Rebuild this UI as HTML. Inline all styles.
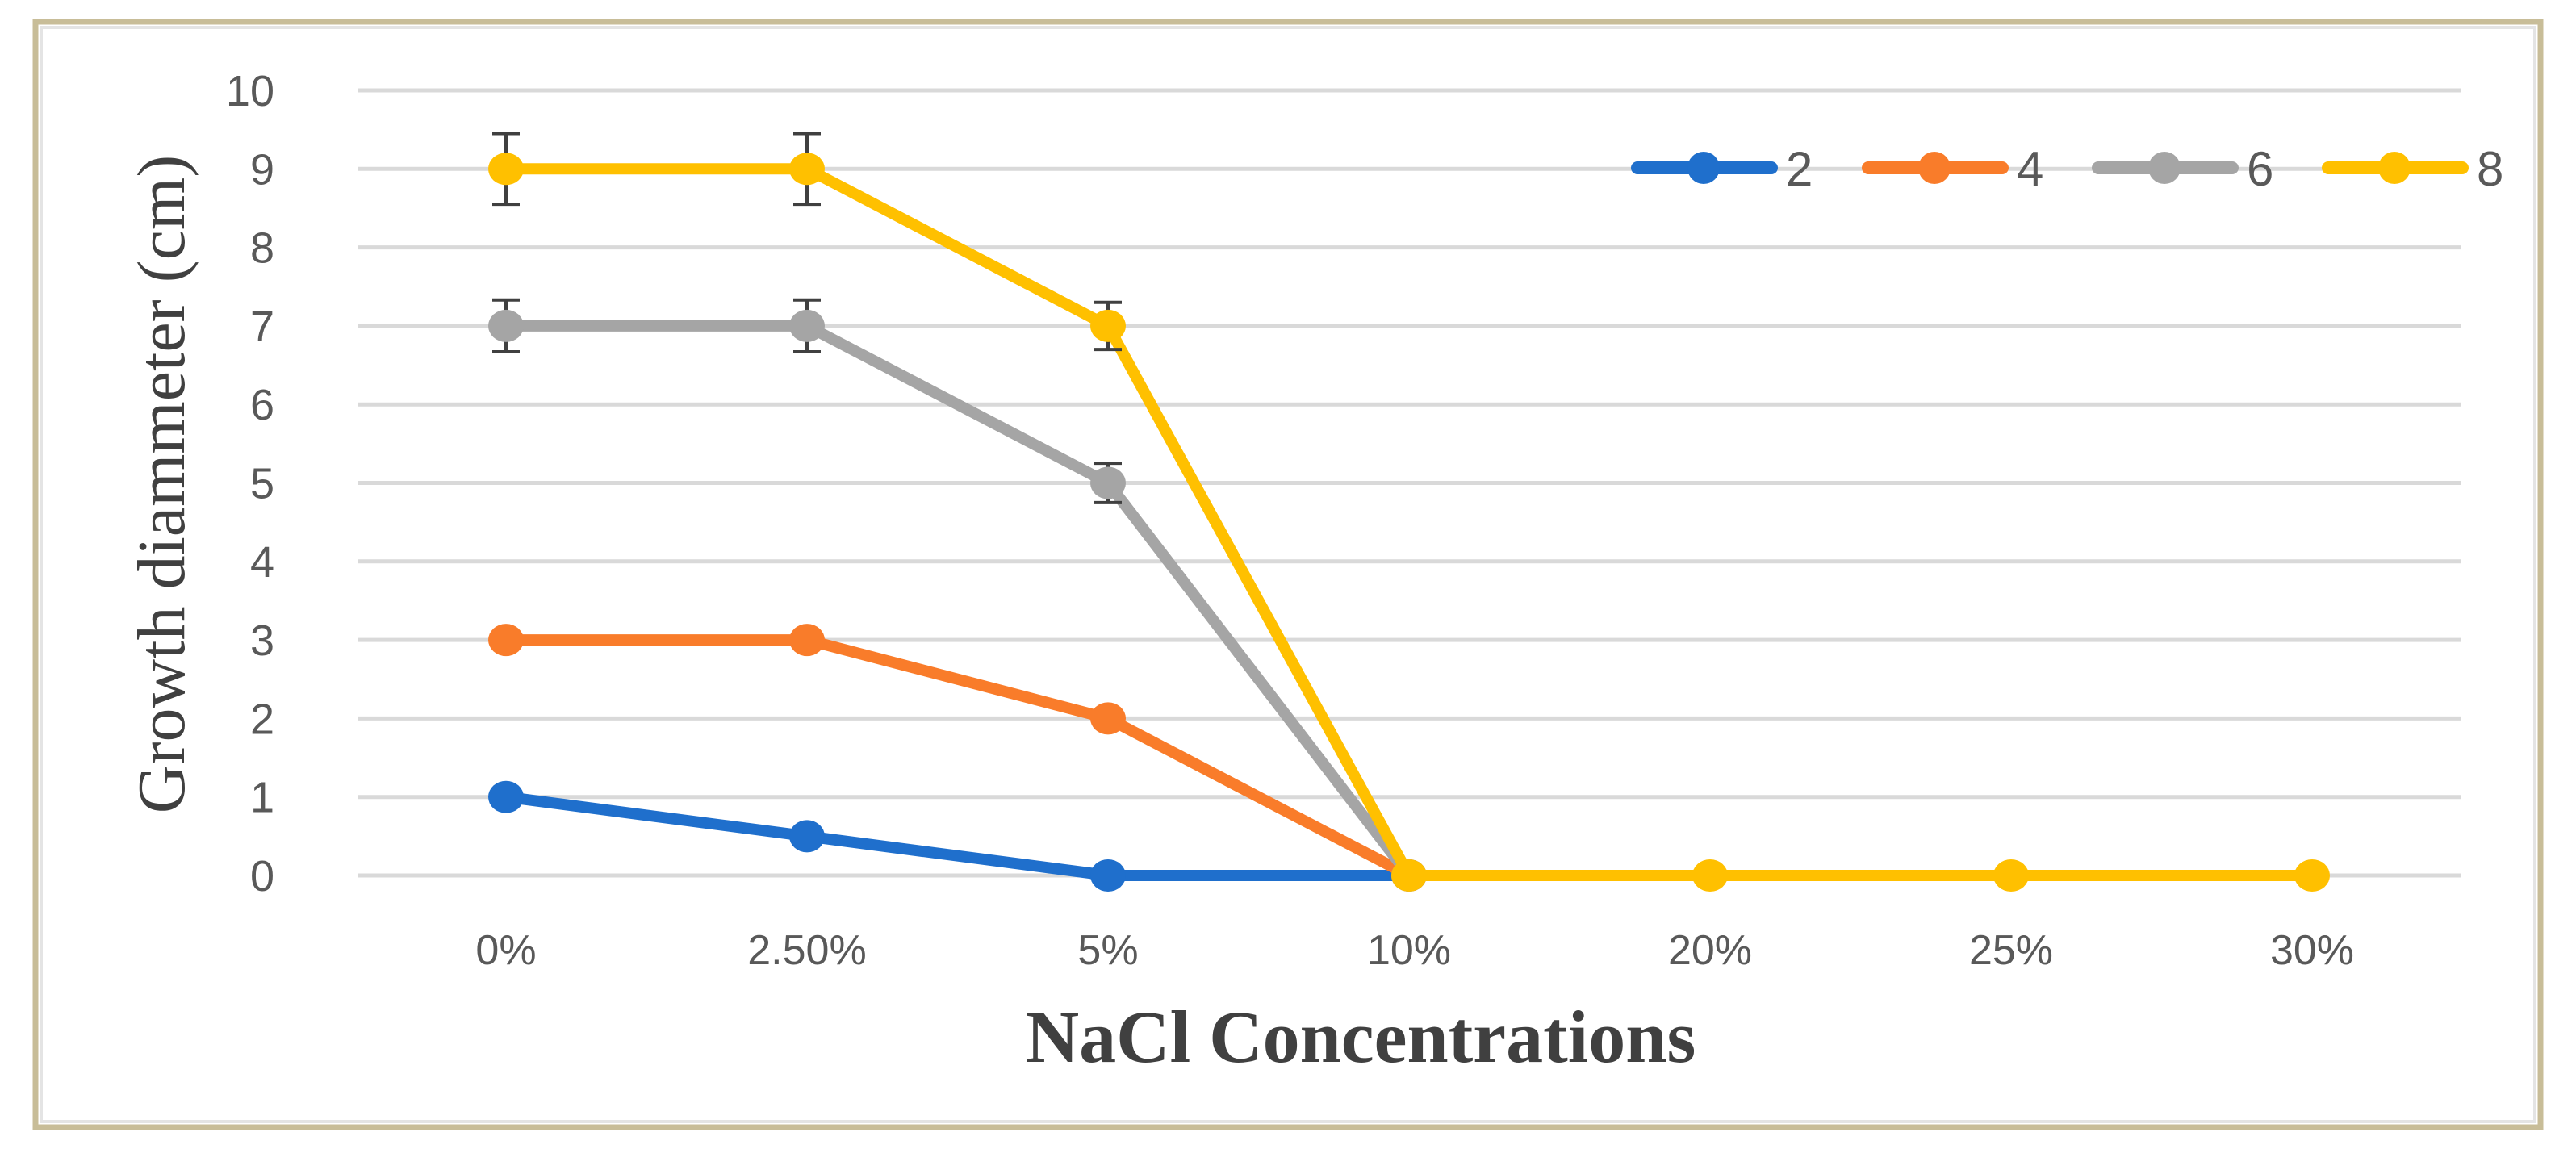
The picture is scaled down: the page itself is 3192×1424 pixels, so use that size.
<!DOCTYPE html>
<html><head><meta charset="utf-8"><style>
html,body{margin:0;padding:0;background:#fff;}
svg{display:block;}
</style></head><body>
<svg id="chart" width="3192" height="1424" viewBox="0 0 3192 1424" xmlns="http://www.w3.org/2000/svg">
<rect x="0" y="0" width="3192" height="1424" fill="#fff"/>
<rect x="44" y="27" width="3104" height="1370" fill="none" stroke="#c8bd98" stroke-width="7"/>
<rect x="51" y="34" width="3090" height="1356" fill="none" stroke="#e4e4e4" stroke-width="4"/>
<g id="grid"></g>
<g id="yticks"></g>
<g id="xticks"></g>
<g id="series"></g>
<g id="legend"></g>
<text transform="translate(228,600) rotate(-90)" text-anchor="middle" font-family="Liberation Serif, serif" font-size="84" fill="#404040">Growth diammeter (cm)</text>
<text x="1686" y="1316" text-anchor="middle" font-family="Liberation Serif, serif" font-weight="bold" font-size="92" fill="#404040">NaCl Concentrations</text>
</svg>
<script>
const categories = ["0%","2.50%","5%","10%","20%","25%","30%"];
const yTicks = [0,1,2,3,4,5,6,7,8,9,10];
const seriesNames = ["2","4","6","8"];
const seriesColors = ["#1f6fcc","#f97c2a","#a5a5a5","#ffc000"];
const s2 = [1,0.5,0,0,null,null,null];
const s4 = [3,3,2,0,null,null,null];
const s6 = [7,7,5,0,null,null,null];
const s8 = [9,9,7,0,0,0,0];
const e2 = [0,0,0,0,0,0,0];
const e4 = [0.1,0.1,0,0,0,0,0];
const e6 = [0.33,0.33,0.25,0,0,0,0];
const e8 = [0.45,0.45,0.3,0,0,0,0];

const NS="http://www.w3.org/2000/svg";
function xPos(i){return 627 + i*373;}
function yPos(v){return 1085 - v*97.3;}
function mk(tag,attrs,parent){const e=document.createElementNS(NS,tag);for(const k in attrs)e.setAttribute(k,attrs[k]);parent.appendChild(e);return e;}

const grid=document.getElementById('grid');
const yt=document.getElementById('yticks');
yTicks.forEach(v=>{
  const l=mk('line',{x1:444,x2:3050,y1:yPos(v),y2:yPos(v),stroke:'#d9d9d9','stroke-width':5},grid);
  
  
  const t=mk('text',{x:340,y:yPos(v)+19,'text-anchor':'end','font-family':'Liberation Sans, sans-serif','font-size':54,fill:'#595959'},yt);
  t.textContent=v;
  
  
});
const xt=document.getElementById('xticks');
categories.forEach((c,i)=>{
  const t=mk('text',{x:xPos(i),y:1195,'text-anchor':'middle','font-family':'Liberation Sans, sans-serif','font-size':52,fill:'#595959'},xt);
  t.textContent=c;
  
  
});

const allS=[s2,s4,s6,s8], allE=[e2,e4,e6,e8];
const sg=document.getElementById('series');
allS.forEach((data,si)=>{
  const g=mk('g',{},sg);
  
  
  const pts=[];
  data.forEach((v,i)=>{if(v!==null)pts.push(xPos(i)+','+yPos(v));});
  const pl=mk('polyline',{points:pts.join(' '),fill:'none',stroke:seriesColors[si],'stroke-width':14,'stroke-linejoin':'round'},g);
  
  
  data.forEach((v,i)=>{
    if(v===null)return;
    const err=allE[si][i];
    if(err>0){
      const eg=mk('g',{stroke:'#404040','stroke-width':4},g);
      
      
      const x=xPos(i),y1=yPos(v+err),y2=yPos(v-err);
      mk('line',{x1:x,x2:x,y1:y1,y2:y2},eg);
      mk('line',{x1:x-17,x2:x+17,y1:y1,y2:y1},eg);
      mk('line',{x1:x-17,x2:x+17,y1:y2,y2:y2},eg);
    }
    const c=mk('ellipse',{cx:xPos(i),cy:yPos(v),rx:22,ry:20,fill:seriesColors[si]},g);
    
    
  });
});

const lg=document.getElementById('legend');
const legX=[2021,2307,2592,2877];
seriesNames.forEach((n,i)=>{
  const g=mk('g',{},lg);
  
  
  const x=legX[i];
  mk('line',{x1:x+8,x2:x+174,y1:208,y2:208,stroke:seriesColors[i],'stroke-width':16,'stroke-linecap':'round'},g);
  mk('ellipse',{cx:x+90,cy:208,rx:20,ry:20,fill:seriesColors[i]},g);
  const t=mk('text',{x:x+192,y:230,'font-family':'Liberation Sans, sans-serif','font-size':60,fill:'#595959'},g);
  t.textContent=n;
});
</script>
</body></html>
